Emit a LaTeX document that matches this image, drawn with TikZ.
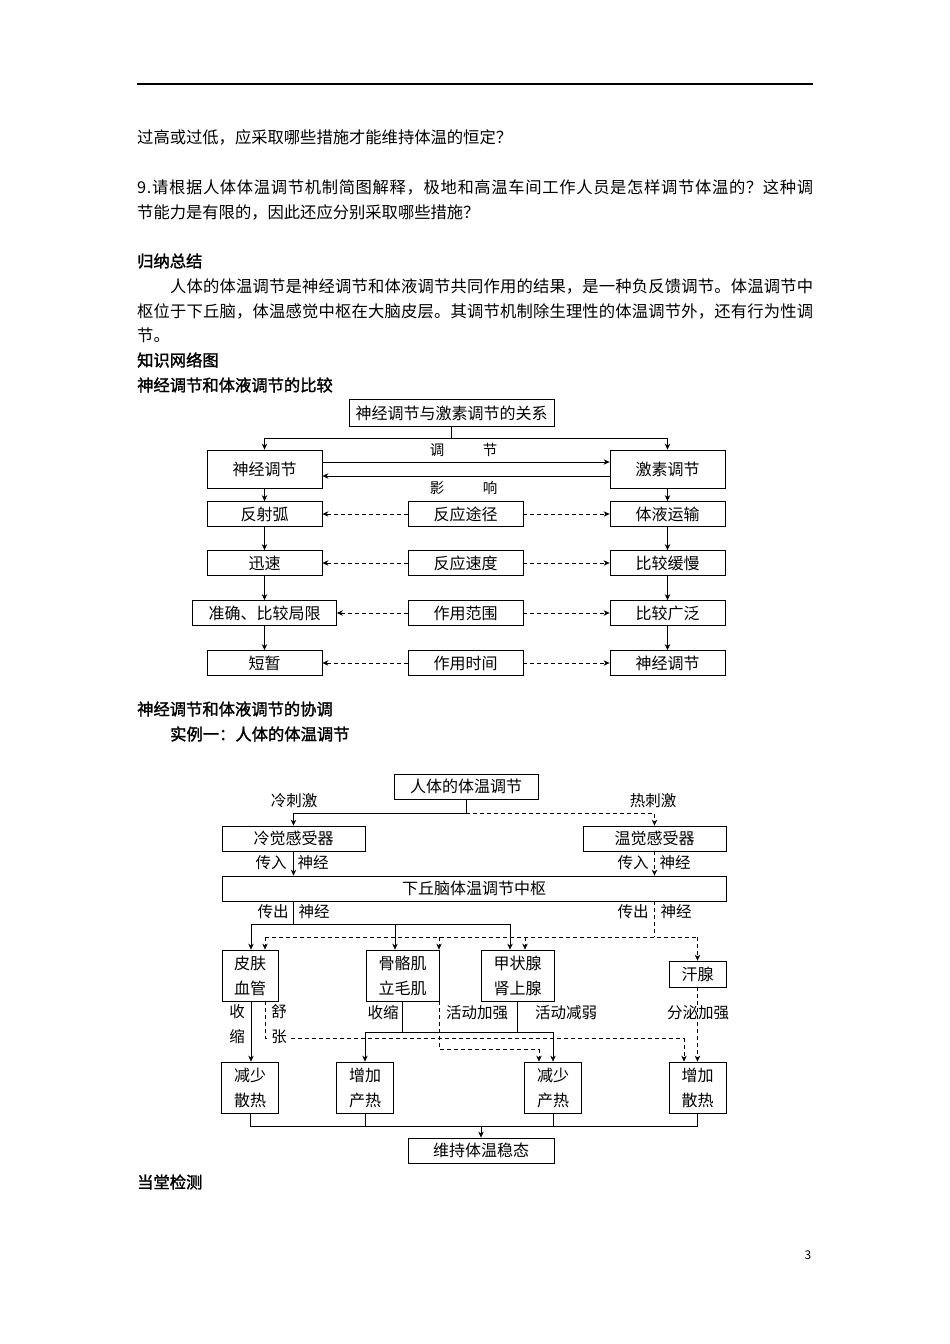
\documentclass[tikz,border=0pt]{standalone}
\usepackage{fontspec}
\setmainfont{Noto Sans CJK SC}[AutoFakeBold=1.6]
\usetikzlibrary{arrows.meta}
\def\spreadA#1{#1\spreadB}
\def\spreadB#1{\ifx#1\relax\else\hfil#1\expandafter\spreadB\fi}
\newcommand\jline[2]{\hbox to #1{\spreadA#2\relax}}
\tikzset{
  bodytext/.style={anchor=west, inner sep=0pt, font=\fontsize{16.3pt}{20pt}\selectfont},
  hdtext/.style={anchor=west, inner sep=0pt, font=\fontsize{16.3pt}{20pt}\selectfont\bfseries},
  box/.style={draw, line width=0.8pt, inner sep=0pt, align=center, font=\fontsize{16pt}{25pt}\selectfont},
  sbox/.style={box, minimum width=115pt, minimum height=25pt},
  tbox/.style={box, minimum width=57pt, minimum height=51pt},
  lbl/.style={inner sep=0pt, font=\fontsize{15.5pt}{17pt}\selectfont},
  conn/.style={line width=0.8pt},
  arr/.style={-{Stealth[length=6pt,width=5.5pt]}},
  dsh/.style={dash pattern=on 4pt off 3pt},
}
\begin{document}
\begin{tikzpicture}[x=1pt,y=-1pt]
\fill[white] (0,0) rectangle (950,1344);
\useasboundingbox (0,0) rectangle (950,1344);

% header rule
\coordinate (hrA) at (137,84);
\coordinate (hrB) at (813,84);
\draw[line width=1.4pt] (hrA) -- (hrB);

% body text
\node[bodytext] (p1) at (137,137) {过高或过低，应采取哪些措施才能维持体温的恒定？};
\node[bodytext] (p2) at (137,187) {\jline{676pt}{9.请根据人体体温调节机制简图解释，极地和高温车间工作人员是怎样调节体温的？这种调}};
\node[bodytext] (p3) at (137,212) {节能力是有限的，因此还应分别采取哪些措施？};
\node[hdtext] (h1) at (137,261) {归纳总结};
\node[bodytext] (p4) at (170,286) {\jline{643pt}{人体的体温调节是神经调节和体液调节共同作用的结果，是一种负反馈调节。体温调节中}};
\node[bodytext] (p5) at (137,311) {\jline{676pt}{枢位于下丘脑，体温感觉中枢在大脑皮层。其调节机制除生理性的体温调节外，还有行为性调}};
\node[bodytext] (p6) at (137,335) {节。};
\node[hdtext] (h2) at (137,360) {知识网络图};
\node[hdtext] (h3) at (137,385) {神经调节和体液调节的比较};
\node[hdtext] (h4) at (137,709) {神经调节和体液调节的协调};
\node[hdtext] (h5) at (170,734) {实例一：人体的体温调节};
\node[hdtext] (h6) at (137,1182) {当堂检测};
\node[inner sep=0pt, font=\fontsize{12pt}{14pt}\selectfont] (pg) at (808,1255) {3};

% ===== Diagram 1 =====
\node[box, minimum width=205pt, minimum height=27pt] (rel) at (451.5,413) {神经调节与激素调节的关系};
\node[box, minimum width=115pt, minimum height=38pt] (nv) at (264.5,469) {神经调节};
\node[box, minimum width=115pt, minimum height=38pt] (hm) at (667.5,469) {激素调节};

\node[sbox] (l1) at (264.5,514) {反射弧};
\node[sbox] (m1) at (465.5,514) {反应途径};
\node[sbox] (r1) at (667.5,514) {体液运输};
\node[sbox] (l2) at (264.5,563) {迅速};
\node[sbox] (m2) at (465.5,563) {反应速度};
\node[sbox] (r2) at (667.5,563) {比较缓慢};
\node[sbox, minimum width=144pt] (l3) at (264.5,613) {准确、比较局限};
\node[sbox] (m3) at (465.5,613) {作用范围};
\node[sbox] (r3) at (667.5,613) {比较广泛};
\node[sbox] (l4) at (264.5,663) {短暂};
\node[sbox] (m4) at (465.5,663) {作用时间};
\node[sbox] (r4) at (667.5,663) {神经调节};

\coordinate (rj) at (451.5,438);
\draw[conn] (rel.south) -- (rj);
\draw[conn,arr] (rj) -| (nv.north);
\draw[conn,arr] (rj) -| (hm.north);
\draw[conn,arr] ([yshift=7pt]nv.east) -- ([yshift=7pt]hm.west);
\draw[conn,arr] ([yshift=-7pt]hm.west) -- ([yshift=-7pt]nv.east);
\node[lbl, font=\fontsize{14.5pt}{17pt}\selectfont] (ta) at (437,450) {调};
\node[lbl, font=\fontsize{14.5pt}{17pt}\selectfont] (tb) at (490,450) {节};
\node[lbl, font=\fontsize{14.5pt}{17pt}\selectfont] (tc) at (437,488) {影};
\node[lbl, font=\fontsize{14.5pt}{17pt}\selectfont] (td) at (490,488) {响};

\draw[conn,arr] (nv.south) -- (l1.north);
\draw[conn,arr] (l1.south) -- (l2.north);
\draw[conn,arr] (l2.south) -- (l3.north);
\draw[conn,arr] (l3.south) -- (l4.north);
\draw[conn,arr] (hm.south) -- (r1.north);
\draw[conn,arr] (r1.south) -- (r2.north);
\draw[conn,arr] (r2.south) -- (r3.north);
\draw[conn,arr] (r3.south) -- (r4.north);
\foreach \i in {1,2,3,4}{
  \draw[conn,dsh,arr] (m\i.west) -- (l\i.east);
  \draw[conn,dsh,arr] (m\i.east) -- (r\i.west);
}

% ===== Diagram 2 =====
\node[box, minimum width=144pt, minimum height=25pt] (T) at (466,786.5) {人体的体温调节};
\node[box, minimum width=143pt, minimum height=25pt] (C) at (293.5,838.5) {冷觉感受器};
\node[box, minimum width=143pt, minimum height=25pt] (W) at (654.5,838.5) {温觉感受器};
\node[box, minimum width=504pt, minimum height=25pt] (H) at (474,888.5) {下丘脑体温调节中枢};

\node[box, minimum width=56pt, minimum height=51pt] (S) at (250,975.5) {皮肤\\血管};
\node[box, minimum width=73pt, minimum height=51pt] (M) at (402.5,975.5) {骨骼肌\\立毛肌};
\node[box, minimum width=73pt, minimum height=51pt] (G) at (517.5,975.5) {甲状腺\\肾上腺};
\node[box, minimum width=57pt, minimum height=26pt] (Sw) at (697.5,974) {汗腺};

\node[tbox] (B1) at (250,1087.5) {减少\\散热};
\node[tbox] (B2) at (365,1087.5) {增加\\产热};
\node[tbox] (B3) at (553,1087.5) {减少\\产热};
\node[tbox] (B4) at (697.5,1087.5) {增加\\散热};
\node[box, minimum width=146pt, minimum height=25pt] (E) at (481,1150.5) {维持体温稳态};

% top branch
\coordinate (tj) at (466,813);
\draw[conn] (T.south) -- (tj);
\draw[conn,arr] (tj) -| (C.north);
\draw[conn,dsh,arr] (tj) -| (W.north);
\node[lbl] (k1) at (294,801) {冷刺激};
\node[lbl] (k2) at (653,801) {热刺激};

% afferent
\draw[conn,arr] (C.south) -- (C.south |- H.north);
\draw[conn,dsh,arr] (W.south) -- (W.south |- H.north);
\node[lbl] (a1) at (271,863) {传入};
\node[lbl] (a2) at (313,863) {神经};
\node[lbl] (a3) at (633,863) {传入};
\node[lbl] (a4) at (675,863) {神经};

% efferent
\coordinate (eL0) at (293.5,901);
\coordinate (eL) at (293.5,924);
\coordinate (eR0) at (654.5,901);
\coordinate (eR) at (654.5,937);
\node[lbl] (a5) at (273,912) {传出};
\node[lbl] (a6) at (314,912) {神经};
\node[lbl] (a7) at (633,912) {传出};
\node[lbl] (a8) at (676,912) {神经};

\coordinate (s1) at (251,924);
\coordinate (s2) at (395,924);
\coordinate (s3) at (510,924);
\draw[conn] (eL0) -- (eL);
\draw[conn] (s1) -- (s3);
\draw[conn,arr] (s1) -- (s1 |- S.north);
\draw[conn,arr] (s2) -- (s2 |- M.north);
\draw[conn,arr] (s3) -- (s3 |- G.north);

\coordinate (d1) at (265,937);
\coordinate (d2) at (439,937);
\coordinate (d3) at (525,937);
\coordinate (d4) at (697.5,937);
\draw[conn,dsh] (eR0) -- (eR);
\draw[conn,dsh] (d1) -- (d4);
\draw[conn,dsh,arr] (d1) -- (d1 |- S.north);
\draw[conn,dsh,arr] (d2) -- (d2 |- M.north);
\draw[conn,dsh,arr] (d3) -- (d3 |- G.north);
\draw[conn,dsh,arr] (d4) -- (Sw.north);

% effectors -> outcomes
\coordinate (sk) at (251,1001);
\draw[conn,arr] (sk) -- (sk |- B1.north);
\coordinate (sd) at (265,1001);
\coordinate (sdc) at (265,1038);
\coordinate (sde) at (684,1038);
\draw[conn,dsh] (sd) -- (sdc) -- (sde);
\draw[conn,dsh,arr] (sde) -- (sde |- B4.north);

\coordinate (mk) at (402,1001);
\coordinate (mkj) at (402,1032);
\coordinate (gk) at (517,1001);
\coordinate (gkj) at (517,1032);
\coordinate (jl) at (365,1032);
\coordinate (jr) at (553,1032);
\draw[conn] (mk) -- (mkj);
\draw[conn] (gk) -- (gkj);
\draw[conn] (jl) -- (jr);
\draw[conn,arr] (jl) -- (B2.north);
\draw[conn,arr] (jr) -- (B3.north);

\coordinate (md) at (439,1001);
\coordinate (mdc) at (439,1049);
\coordinate (mde) at (539,1049);
\draw[conn,dsh] (md) -- (mdc) -- (mde);
\draw[conn,dsh,arr] (mde) -- (mde |- B3.north);

\draw[conn,dsh,arr] (Sw.south) -- (B4.north);

\node[lbl] (c1) at (237,1012) {收};
\node[lbl] (c2) at (237,1037) {缩};
\node[lbl] (c3) at (279,1012) {舒};
\node[lbl, fill=white, inner sep=1pt] (c4) at (279,1037) {张};
\node[lbl] (c5) at (383,1013) {收缩};
\node[lbl] (c6) at (477,1013) {活动加强};
\node[lbl] (c7) at (566,1013) {活动减弱};
\node[lbl] (c8) at (698,1013) {分泌加强};

% outcomes -> homeostasis
\coordinate (o1) at (250,1126);
\coordinate (o4) at (697.5,1126);
\coordinate (oc) at (481,1126);
\draw[conn] (B1.south) -- (o1);
\draw[conn] (B2.south) -- (B2.south |- o1);
\draw[conn] (B3.south) -- (B3.south |- o1);
\draw[conn] (B4.south) -- (o4);
\draw[conn] (o1) -- (o4);
\draw[conn,arr] (oc) -- (E.north);
\end{tikzpicture}
\end{document}
